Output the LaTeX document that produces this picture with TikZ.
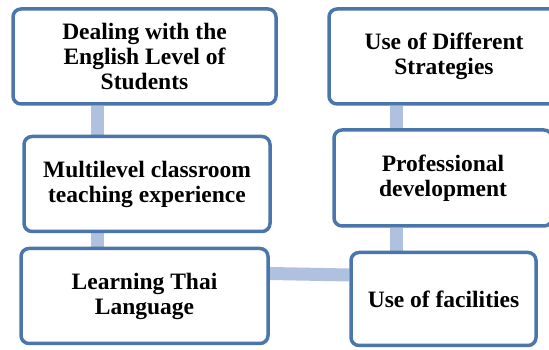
\documentclass[tikz,border=0pt]{standalone}
\usepackage{fontspec}
\setmainfont{Liberation Serif}[BoldFont={Liberation Serif Bold}]
\usetikzlibrary{backgrounds}
\definecolor{boxblue}{RGB}{74,118,172}
\definecolor{linkblue}{RGB}{175,193,222}
\begin{document}
\begin{tikzpicture}[x=1pt,y=1pt,
  box/.style={draw=boxblue, line width=3.5pt, rounded corners=8pt, fill=white,
    align=center, font=\bfseries\fontsize{23.5}{25}\selectfont, inner sep=0pt},
  link/.style={draw=linkblue, line width=13pt}]
\useasboundingbox (0,0) rectangle (549,350);
\clip (0,0) rectangle (549,350);
\node[box, minimum width=263pt, minimum height=95pt] (deal) at (144.5,293.5) {Dealing with the\\English Level of\\Students};
\node[box, minimum width=246pt, minimum height=95pt] (multi) at (147,166) {Multilevel classroom\\teaching experience};
\node[box, minimum width=247pt, minimum height=95pt] (thai) at (144.5,54) {Learning Thai\\Language};
\node[box, minimum width=230pt, minimum height=95pt] (strat) at (444,293.5) {Use of Different\\Strategies};
\node[box, minimum width=218pt, minimum height=96pt] (prof) at (443,172) {Professional\\development};
\node[box, minimum width=185pt, minimum height=93pt] (fac) at (443.5,51) {Use of facilities};
\begin{scope}[on background layer]
\draw[link] ([xshift=-47.5pt]deal.south) -- ([xshift=-47.5pt]deal.south |- multi.north);
\draw[link] ([xshift=-50pt]multi.south) -- ([xshift=-50pt]multi.south |- thai.north);
\draw[link] ([xshift=-48pt]strat.south) -- ([xshift=-48pt]strat.south |- prof.north);
\draw[link] ([xshift=-47pt]prof.south) -- ([xshift=-47pt]prof.south |- fac.north);
\draw[link] ([yshift=22.5pt]thai.east) -- ([yshift=24pt]fac.west);
\end{scope}
\end{tikzpicture}
\end{document}
